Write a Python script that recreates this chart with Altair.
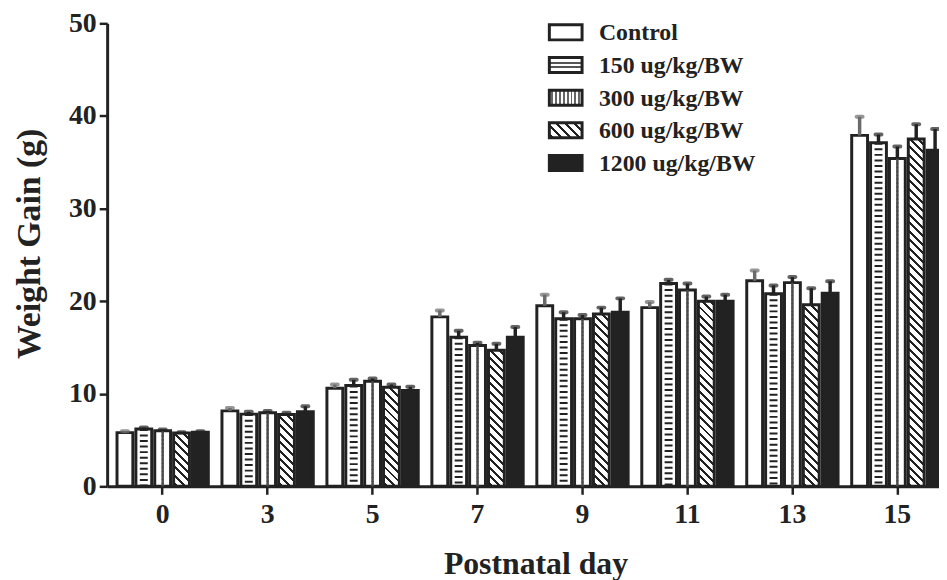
import altair as alt

days = ["0", "3", "5", "7", "9", "11", "13", "15"]
series = ["Control", "150 ug/kg/BW", "300 ug/kg/BW", "600 ug/kg/BW", "1200 ug/kg/BW"]

control = [5.8, 8.15, 10.6, 18.3, 19.5, 19.3, 22.2, 37.9]
control_err = [0.15, 0.3, 0.4, 0.7, 1.2, 0.6, 1.1, 2.0]
d150 = [6.2, 7.8, 10.9, 16.1, 18.1, 21.9, 20.8, 37.1]
d150_err = [0.15, 0.25, 0.6, 0.7, 0.7, 0.4, 0.9, 0.9]
d300 = [6.0, 7.95, 11.35, 15.2, 18.1, 21.2, 22.0, 35.4]
d300_err = [0.15, 0.2, 0.3, 0.3, 0.4, 0.7, 0.6, 1.3]
d600 = [5.75, 7.75, 10.7, 14.7, 18.6, 20.0, 19.6, 37.5]
d600_err = [0.1, 0.2, 0.3, 0.7, 0.7, 0.5, 1.8, 1.6]
d1200 = [5.85, 8.05, 10.35, 16.1, 18.8, 20.0, 20.85, 36.3]
d1200_err = [0.1, 0.6, 0.4, 1.1, 1.5, 0.7, 1.3, 2.3]

means = [control, d150, d300, d600, d1200]
errs = [control_err, d150_err, d300_err, d600_err, d1200_err]

DARK = "#222222"
FONT = "Liberation Serif"

PLOT_W, PLOT_H = 839, 467
X_RANGE = 853
PX_PER_UNIT = PLOT_H / 50.0
P_IN, P_OUT = 0.13, 0.094
OFF_PAD = 0.16
step = X_RANGE / (len(days) - P_IN + 2 * P_OUT)
band = step * (1 - P_IN)
bar_w = band / (len(series) - OFF_PAD) * (1 - OFF_PAD)


def diag_gradient(w, h, period=8.5, thick=3.0, dark=DARK, light="#ffffff"):
    L = w + h
    c = L / (w * w + h * h)
    stops = [{"offset": 0, "color": light}]
    k = 0
    while True:
        a = k * period + 2.0
        b = a + thick
        if a >= L:
            break
        a1, b1 = a / L, min(b / L, 1.0)
        stops += [{"offset": a1, "color": light}, {"offset": a1, "color": dark},
                  {"offset": b1, "color": dark}, {"offset": b1, "color": light}]
        k += 1
    stops.append({"offset": 1, "color": light})
    return {"gradient": "linear", "x1": 0, "y1": 1, "x2": c * w, "y2": 1 - c * h,
            "stops": stops}


def hstripe_gradient(bands, dark="#555555", light="#ffffff"):
    stops = [{"offset": 0, "color": light}]
    for a, b in bands:
        stops += [{"offset": a, "color": light}, {"offset": a, "color": dark},
                  {"offset": b, "color": dark}, {"offset": b, "color": light}]
    stops.append({"offset": 1, "color": light})
    return {"gradient": "linear", "x1": 0, "y1": 0, "x2": 0, "y2": 1, "stops": stops}


def vstripe_gradient(n, dark="#444444", light="#ffffff"):
    stops = [{"offset": 0, "color": light}]
    for k in range(n):
        a, b = (2 * k + 1) / (2 * n + 1), (2 * k + 2) / (2 * n + 1)
        stops += [{"offset": a, "color": light}, {"offset": a, "color": dark},
                  {"offset": b, "color": dark}, {"offset": b, "color": light}]
    stops.append({"offset": 1, "color": light})
    return {"gradient": "linear", "x1": 0, "y1": 0, "x2": 1, "y2": 0, "stops": stops}


records = []
for si, s in enumerate(series):
    for di, d in enumerate(days):
        v = means[si][di]
        if si == 3:
            fillv = diag_gradient(bar_w, v * PX_PER_UNIT)
        elif si == 4:
            fillv = DARK
        else:
            fillv = "#ffffff"
        records.append({
            "day": d, "series": s, "value": v, "err": errs[si][di],
            "fillv": fillv, "ecolor": "#6a6a6a" if si == 0 else DARK,
        })

data = alt.Data(values=records)

x_enc = alt.X(
    "day:N",
    scale=alt.Scale(domain=days, range=[0, X_RANGE], paddingInner=P_IN, paddingOuter=P_OUT),
    axis=alt.Axis(
        title="Postnatal day", labelAngle=0, labelFont=FONT, labelFontSize=28,
        labelFontWeight="bold", labelColor=DARK, labelPadding=6, tickSize=8,
        tickWidth=2.5, tickColor=DARK, domainColor=DARK, domainWidth=3, grid=False,
        titleFont=FONT, titleFontSize=32, titleFontWeight="bold", titleColor=DARK,
        titleX=432, titleY=88, titleBaseline="alphabetic", titleAlign="center",
    ),
)
xo_enc = alt.XOffset("series:N", scale=alt.Scale(domain=series, paddingInner=OFF_PAD, paddingOuter=0))
y_scale = alt.Scale(domain=[0, 50], nice=False, zero=True)
y_axis = alt.Axis(
    title="Weight Gain (g)", values=[0, 10, 20, 30, 40, 50], labelFont=FONT,
    labelFontSize=28, labelFontWeight="bold", labelColor=DARK, labelPadding=3,
    tickSize=8, tickWidth=2.5, tickColor=DARK, domainColor=DARK, domainWidth=3,
    grid=False, titleFont=FONT, titleFontSize=34, titleFontWeight="bold",
    titleColor=DARK, titleX=-68, titleY=222, titleBaseline="alphabetic",
    titleAlign="center", titleAngle=270,
)
y_enc = alt.Y("value:Q", scale=y_scale, axis=y_axis)

base = alt.Chart(data)

bars = base.mark_bar(stroke=DARK, strokeWidth=3).encode(
    x=x_enc, xOffset=xo_enc, y=y_enc, fill=alt.Fill("fillv:N", scale=None)
)

stripes = base.transform_filter(alt.datum.series == series[1]).mark_rule(
    strokeWidth=8, strokeDash=[2, 3.6], color=DARK
).encode(x=x_enc, xOffset=xo_enc, y=y_enc, y2=alt.datum(0))

checker_layers = []
for j, off in enumerate([-4, -2, 0, 2, 4]):
    checker_layers.append(
        base.transform_filter(alt.datum.series == series[2]).mark_rule(
            strokeWidth=2, strokeDash=[2, 2], strokeDashOffset=(2 if j % 2 else 0),
            color="#4a4a4a", xOffset=off,
        ).encode(x=x_enc, xOffset=xo_enc, y=y_enc, y2=alt.datum(0))
    )

stems = base.transform_calculate(hi="datum.value + datum.err").mark_rule(strokeWidth=3.5).encode(
    x=x_enc, xOffset=xo_enc, y=y_enc, y2="hi:Q", stroke=alt.Stroke("ecolor:N", scale=None)
)
caps = base.transform_calculate(hi="datum.value + datum.err").mark_tick(
    size=10, thickness=4, cornerRadius=2
).encode(
    x=x_enc, xOffset=xo_enc, y=alt.Y("hi:Q", scale=y_scale, axis=y_axis),
    color=alt.Color("ecolor:N", scale=None)
)

main = alt.layer(bars, stripes, *checker_layers, stems, caps)

# legend
leg_fill = [
    "#ffffff",
    hstripe_gradient([(0.33, 0.43), (0.57, 0.67)]),
    vstripe_gradient(8, dark="#666666"),
    diag_gradient(33, 15, period=9, thick=3.2),
    DARK,
]
leg_records = [{"name": s, "lfill": f} for s, f in zip(series, leg_fill)]
leg_data = alt.Data(values=leg_records)
leg_y = alt.Y(
    "name:N",
    scale=alt.Scale(domain=series, range=[-7.35, 157.35], paddingInner=0.54, paddingOuter=0.27),
    axis=None,
)
leg_boxes = alt.Chart(leg_data).mark_rect(stroke=DARK, strokeWidth=3).encode(
    x=alt.value(446), x2=alt.value(479), y=leg_y, fill=alt.Fill("lfill:N", scale=None)
)
leg_text = alt.Chart(leg_data).mark_text(
    align="left", baseline="middle", font=FONT, fontSize=24, fontWeight="bold", color=DARK, dy=1
).encode(x=alt.value(496), y=leg_y, text="name:N")

legend = alt.layer(leg_boxes, leg_text)

chart = alt.layer(main, legend).resolve_scale(y="independent").properties(
    width=PLOT_W, height=PLOT_H,
    padding={"left": 100, "top": 13, "right": 0, "bottom": 92},
    autosize=alt.AutoSizeParams(type="none"),
    background="white",
).configure_view(stroke=None).configure_axis(grid=False)

chart.save("out.html", embed_options={"renderer": "svg", "actions": False})
